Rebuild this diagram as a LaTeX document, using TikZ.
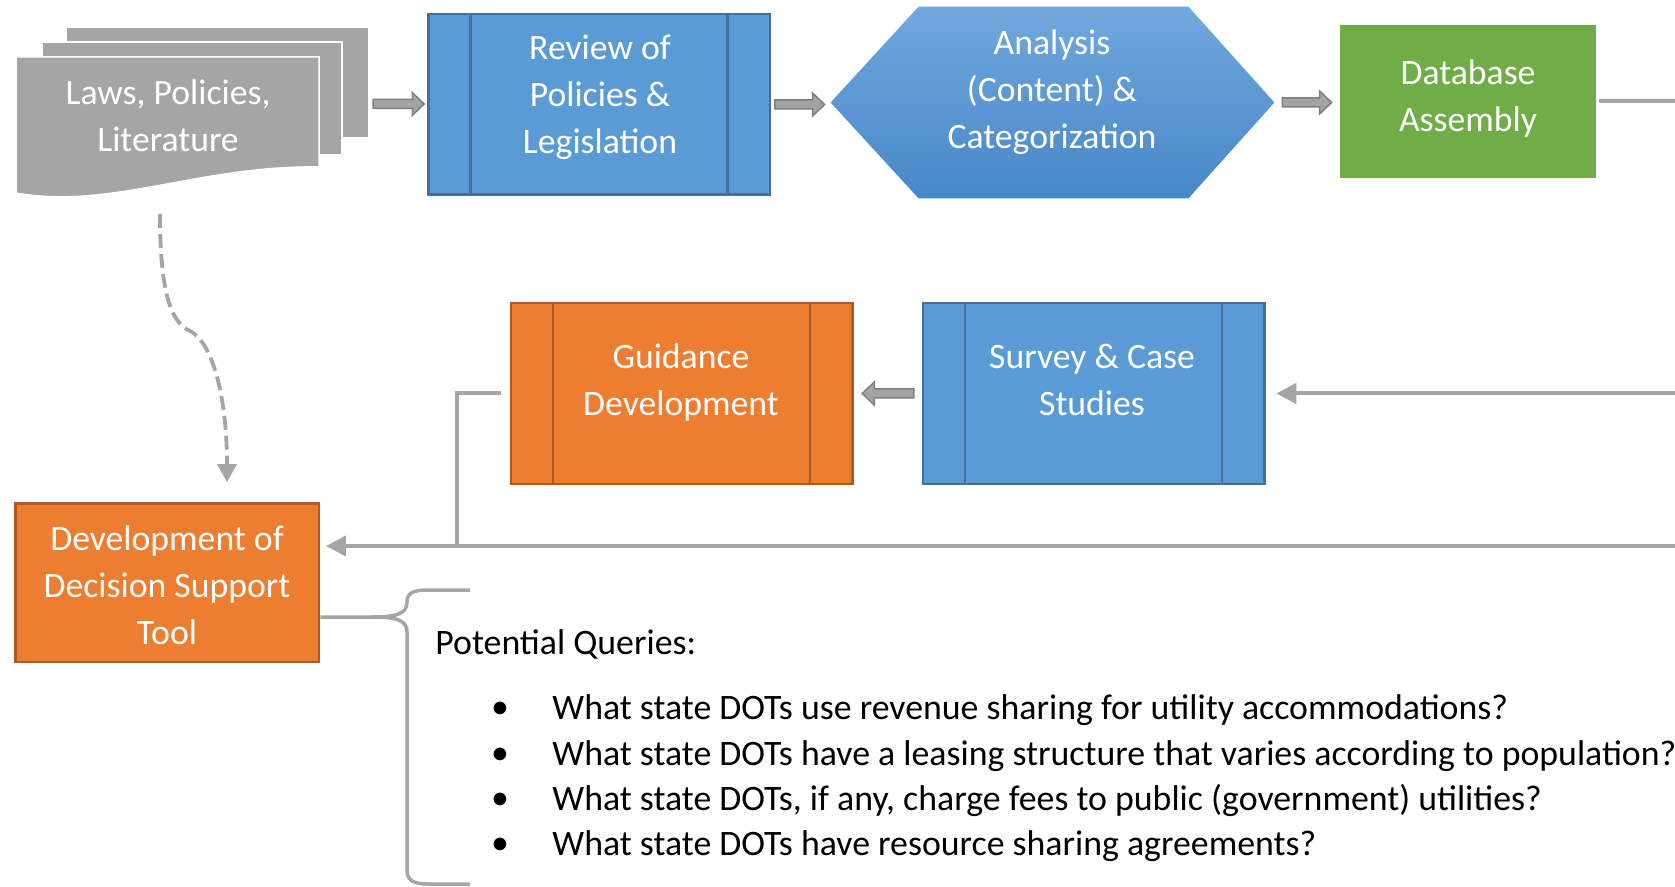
\documentclass[tikz,border=0pt]{standalone}
\usepackage{fontspec}
\setmainfont{Carlito}
\usetikzlibrary{calc,arrows.meta}

\definecolor{procfill}{HTML}{5B9BD5}
\definecolor{procline}{HTML}{41719C}
\definecolor{hextop}{HTML}{71A8DE}
\definecolor{hexbot}{HTML}{4787C7}
\definecolor{devfill}{HTML}{ED7D31}
\definecolor{devline}{HTML}{AE5A21}
\definecolor{dbfill}{HTML}{70AD47}
\definecolor{docfill}{HTML}{A5A5A5}
\definecolor{linkgray}{HTML}{A5A5A5}
\definecolor{barrowline}{HTML}{7F7F7F}
\definecolor{barrowfill}{HTML}{A3A3A3}

\newcommand{\dgboxfont}{\fontsize{17.85pt}{23.5pt}\selectfont}
\newcommand{\dgqueryfont}{\fontsize{17.9pt}{22.6pt}\selectfont}

\begin{document}
\begin{tikzpicture}[x=0.5pt,y=-0.5pt,
  shell/.style={draw, line width=1.25pt, inner sep=0pt, outer sep=0pt},
  sidebars/.style={path picture={
    \draw[line width=1.25pt, #1]
      ([xshift=21.2pt]path picture bounding box.north west) -- ([xshift=21.2pt]path picture bounding box.south west)
      ([xshift=-21.2pt]path picture bounding box.north east) -- ([xshift=-21.2pt]path picture bounding box.south east);}},
  predproc/.style 2 args={shell, draw=#2, fill=#1, sidebars=#2,
    minimum width=170.75pt, minimum height=90.25pt},
  boxtext/.style={text=white, align=center, font=\dgboxfont, inner sep=0pt},
  qtext/.style={text=black, font=\dgqueryfont, inner sep=0pt},
  link/.style={draw=linkgray, line width=2pt},
  tip/.style={-{Triangle[length=10pt,width=10pt]}},
  blockarrow/.style={draw=barrowline, fill=barrowfill, line width=0.75pt,
    to path={let \p1=(\tikztostart), \p2=(\tikztotarget), \n1={sign(\x2-\x1)*6} in
      (\x1,\y1+2.25pt) -- (\x2-\n1*1pt,\y1+2.25pt) -- (\x2-\n1*1pt,\y1+5.75pt)
      -- (\x2,\y1) -- (\x2-\n1*1pt,\y1-5.75pt) -- (\x2-\n1*1pt,\y1-2.25pt)
      -- (\x1,\y1-2.25pt) -- cycle}}
]
\useasboundingbox (0,0) rectangle (1675,887);

% stacked documents
\fill[docfill, draw=white, line width=0.75pt] (66,27) rectangle (369,138);
\fill[docfill, draw=white, line width=0.75pt] (42,42) rectangle (342,155);
\fill[docfill, draw=white, line width=0.75pt] (16,57) -- (319,57) -- (319,167)
  .. controls (200,165) and (110,210) .. (16,193) -- cycle;
\node[boxtext] (laws) at (168,119) {\strut Laws, Policies,\\\strut Literature};
\coordinate (stackE) at (373,104);

% top row
\node[predproc={procfill}{procline}] (review) at (599,104.5) {};
\node[boxtext] (reviewtxt) at (600,97.5) {\strut Review of\\\strut Policies \&\\\strut Legislation};

\node[inner sep=0pt, minimum width=221.5pt, minimum height=95.5pt] (hex) at (1052.5,102.5) {};
\shade[top color=hextop, bottom color=hexbot] (hex.west) -- ([xshift=44pt]hex.north west)
  -- ([xshift=-43pt]hex.north east) -- (hex.east) -- ([xshift=-43pt]hex.south east)
  -- ([xshift=44pt]hex.south west) -- cycle;
\node[boxtext] (hextxt) at (1052,92.5) {\strut Analysis\\\strut (Content) \&\\\strut Categorization};

\node[fill=dbfill, inner sep=0pt, minimum width=128pt, minimum height=76.5pt] (db) at (1468,101.5) {};
\node[boxtext] (dbtxt) at (1468,98.5) {\strut Database\\\strut Assembly};

% middle row
\node[predproc={devfill}{devline}] (guid) at (681.5,393.5) {};
\node[boxtext] (guidtxt) at (681,383) {\strut Guidance\\\strut Development};

\node[predproc={procfill}{procline}] (survey) at (1093.5,393.5) {};
\node[boxtext] (surveytxt) at (1092,383) {\strut Survey \& Case\\\strut Studies};

% decision support tool
\node[shell, draw=devline, fill=devfill, minimum width=151.75pt, minimum height=79.25pt] (dst) at (167,582.5) {};
\node[boxtext] (dsttxt) at (167,588.5) {\strut Development of\\\strut Decision Support\\\strut Tool};

% block arrows along the flow
\path[blockarrow] (stackE) to ([xshift=-2pt]review.west);
\path[blockarrow] ([xshift=2.5pt]review.east) to ([xshift=-3pt]hex.west);
\path[blockarrow] ([xshift=4pt]hex.east) to ([xshift=-4pt]db.west);
\path[blockarrow] ([xshift=-4.5pt]survey.west) to ([xshift=5pt]guid.east);

% return connectors
\coordinate (edgeA) at (1680,101.5);
\coordinate (edgeB) at (1680,393.5);
\coordinate (edgeC) at (1680,546);
\coordinate (join) at (457,546);
\draw[link] ([xshift=1.5pt]db.east) -- (edgeA);
\draw[link, tip] (edgeB) -- ([xshift=6pt]survey.east);
\draw[link, tip] (edgeC) -- ([xshift=3.6pt]dst.east |- edgeC);
\draw[link] ([xshift=-5pt]guid.west) -| (join);

% dashed feed from the documents
\coordinate (docfoot) at (160,214);
\draw[link, line width=1.9pt, dash pattern=on 7pt off 3pt, -{Triangle[length=9pt,width=9.5pt]}]
  (docfoot) .. controls (160,290) and (170,322) .. (190,331)
  .. controls (212,342) and (227,395) .. ([xshift=30pt,yshift=10.6pt]dst.north);

% brace
\draw[link, line width=1.75pt] ([xshift=0.75pt,yshift=-17.25pt]dst.east) -- (372,617)
  .. controls (396,617) and (407,614) .. (407,602)
  .. controls (407,593) and (413,590) .. (428,590) -- (470,590)
  (372,617) .. controls (396,617) and (407,620) .. (407,632) -- (407,870)
  .. controls (407,880) and (413,884) .. (428,884) -- (470,884);

% queries
\node[qtext, anchor=west] (pq) at (435,645) {\strut Potential Queries:};
\node[qtext] (b1) at (500,710) {\textbullet};
\node[qtext] (b2) at (500,756) {\textbullet};
\node[qtext] (b3) at (500,801) {\textbullet};
\node[qtext] (b4) at (500,846) {\textbullet};
\node[qtext, anchor=west] (q1) at (552,710) {\strut What state DOTs use revenue sharing for utility accommodations?};
\node[qtext, anchor=west] (q2) at (552,756) {\strut What state DOTs have a leasing structure that varies according to population?};
\node[qtext, anchor=west] (q3) at (552,801) {\strut What state DOTs, if any, charge fees to public (government) utilities?};
\node[qtext, anchor=west] (q4) at (552,846) {\strut What state DOTs have resource sharing agreements?};
\end{tikzpicture}
\end{document}
